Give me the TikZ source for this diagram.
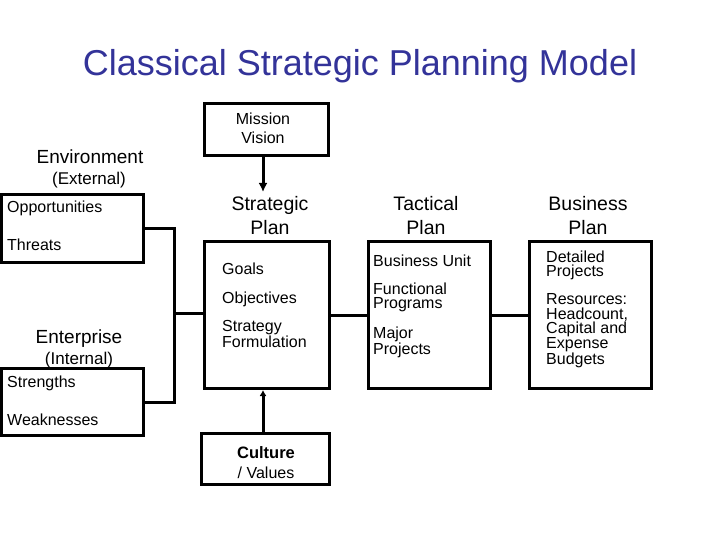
\documentclass[tikz,border=0pt]{standalone}
\usepackage{fontspec}
\setmainfont{Liberation Sans}
\usetikzlibrary{arrows.meta}
\definecolor{titleblue}{RGB}{51,51,153}
\tikzset{
  box/.style={draw, line width=3pt, inner sep=0pt, minimum width=#1},
  conn/.style={line width=3pt},
  txt/.style={font=\fontsize{16}{16}\selectfont, anchor=base west, inner sep=0pt},
  mtxt/.style={font=\fontsize{16}{14.5}\selectfont, anchor=north west, align=left, inner sep=0pt},
  ctxt/.style={font=\fontsize{16}{16}\selectfont, anchor=base, inner sep=0pt},
  head/.style={font=\fontsize{19.5}{19.5}\selectfont, anchor=base, inner sep=0pt},
  sub/.style={font=\fontsize{17}{17}\selectfont, anchor=base, inner sep=0pt}
}
\begin{document}
\begin{tikzpicture}[x=1pt,y=-1pt]
\useasboundingbox (0,0) rectangle (720,540);
% title
\node[font=\fontsize{36}{36}\selectfont, text=titleblue, anchor=base, inner sep=0pt] (title) at (360,76) {Classical Strategic Planning Model};
% boxes
\node[box=142pt, minimum height=68pt] (env) at (72.5,228.5) {};
\node[box=142pt, minimum height=67pt] (ent) at (72.5,402) {};
\node[box=124pt, minimum height=52pt] (mission) at (266.5,129.5) {};
\node[box=125.5pt, minimum height=147pt] (strat) at (267,315) {};
\node[box=128pt, minimum height=50.5pt] (culture) at (265.5,458.75) {};
\node[box=122pt, minimum height=147pt] (tact) at (429.5,315) {};
\node[box=122pt, minimum height=147pt] (bus) at (590.5,315) {};
% left labels
\node[font=\fontsize{19}{19}\selectfont, anchor=base, inner sep=0pt] (envh) at (90,164) {Environment};
\node[sub] (envs) at (89,185) {(External)};
\node[txt] (opp) at (7,212) {Opportunities};
\node[txt] (thr) at (7,250) {Threats};
\node[font=\fontsize{19}{19}\selectfont, anchor=base, inner sep=0pt] (enth) at (79,343) {Enterprise};
\node[sub] (ents) at (79,364) {(Internal)};
\node[txt] (str) at (7,387) {Strengths};
\node[txt] (weak) at (7,425) {Weaknesses};
% mission
\node[font=\fontsize{16}{19}\selectfont, anchor=north, align=center, inner sep=0pt] (mis) at (263,112.5) {Mission\\Vision};
% strategic
\node[head] (sph1) at (270,211) {Strategic};
\node[head] (sph2) at (270,235) {Plan};
\node[txt] (g1) at (222,274) {Goals};
\node[txt] (g2) at (222,303) {Objectives};
\node[mtxt] (g3) at (222,320.5) {Strategy\\Formulation};
% culture
\node[ctxt, font=\bfseries\fontsize{16.5}{16.5}\selectfont] (cul1) at (266,458) {Culture};
\node[ctxt] (cul2) at (266,478) {/ Values};
% tactical
\node[head] (tph1) at (426,211) {Tactical};
\node[head] (tph2) at (426,235) {Plan};
\node[txt] (t1) at (373,266) {Business Unit};
\node[mtxt] (t2) at (373,282.5) {Functional\\Programs};
\node[mtxt] (t3) at (373,326.5) {Major\\Projects};
% business
\node[head] (bph1) at (588,211) {Business};
\node[head] (bph2) at (588,235) {Plan};
\node[mtxt] (b1) at (546,250.5) {Detailed\\Projects};
\node[mtxt] (b2) at (546,293.5) {Resources:\\Headcount,\\Capital and\\Expense\\Budgets};
% connectors
\coordinate (bx) at (174,313);
\draw[conn] (env.east) -| (bx) |- (ent.east);
\draw[conn] (bx) -- (bx -| strat.west);
\draw[conn] (strat.east) -- (tact.west);
\draw[conn] (tact.east) -- (bus.west);
\coordinate (atip) at (263,192);
\draw[conn, -{Latex[length=9pt,width=9pt]}] (mission.south -| atip) -- (atip);
\draw[conn, -{Latex[length=6pt,width=7pt]}] (culture.north -| atip) -- (atip |- strat.south);
\end{tikzpicture}
\end{document}
